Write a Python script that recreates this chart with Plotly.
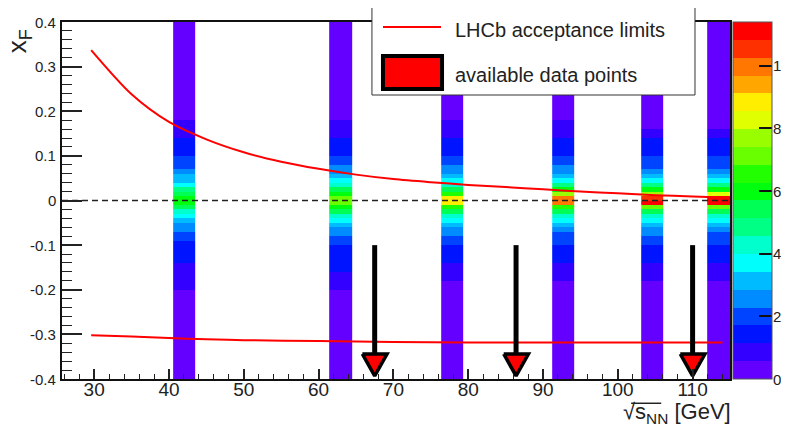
import plotly.graph_objects as go

# ---------------- data ----------------
# centres of the sqrt(s_NN) bins that are filled [GeV]
sqrt_s_centres = [42.05, 62.95, 77.85, 92.7, 104.6, 113.5]
BIN_W = 2.98

# x_F bin edges (bottom -> top)
xf_edges = [-0.40, -0.20, -0.18, -0.16, -0.14, -0.12, -0.10, -0.09, -0.08, -0.07,
            -0.06, -0.05, -0.04, -0.03, -0.02, -0.01, 0.00, 0.01, 0.02, 0.03,
            0.04, 0.05, 0.06, 0.07, 0.08, 0.09, 0.10, 0.12, 0.14, 0.16, 0.18,
            0.20, 0.40]

# bin contents per sqrt(s_NN) column (bottom -> top)
col_42 = [0.32, 0.62, 0.75, 0.98, 1.25, 1.42, 1.6, 1.85, 2.1, 2.45, 2.7, 3.2, 3.7, 4.2, 5.3, 6.0,
          6.05, 5.5, 4.8, 3.8, 3.3, 2.95, 2.5, 2.15, 1.95, 1.8, 1.5, 1.2, 0.95, 0.7, 0.45, 0.3]
col_63 = [0.3, 0.7, 0.95, 1.2, 1.45, 1.65, 1.85, 2.15, 2.4, 2.75, 3.2, 3.75, 4.3, 5.4, 6.1, 7.1,
          7.15, 6.0, 5.35, 4.25, 3.6, 3.05, 2.7, 2.35, 2.1, 1.9, 1.6, 1.25, 0.95, 0.7, 0.45, 0.3]
col_78 = [0.3, 0.5, 0.8, 1.05, 1.3, 1.6, 1.9, 2.1, 2.4, 2.7, 3.15, 3.7, 4.3, 5.5, 6.7, 8.9,
          8.95, 6.65, 5.45, 4.35, 3.75, 3.2, 2.75, 2.45, 2.15, 1.95, 1.65, 1.3, 1.0, 0.75, 0.5, 0.3]
col_93 = [0.3, 0.5, 0.75, 1.05, 1.3, 1.6, 1.8, 2.0, 2.2, 2.5, 3.1, 3.7, 4.35, 5.5, 6.6, 10.1,
          10.05, 7.75, 6.1, 4.9, 3.75, 3.15, 2.75, 2.35, 2.15, 1.9, 1.6, 1.3, 0.95, 0.7, 0.45, 0.3]
col_105 = [0.3, 0.5, 0.8, 1.05, 1.35, 1.6, 1.85, 2.15, 2.4, 2.7, 3.15, 3.75, 4.4, 5.5, 7.2, 11.1,
           10.6, 7.8, 6.05, 4.9, 3.8, 3.2, 2.6, 2.25, 2.05, 1.85, 1.55, 1.25, 0.9, 0.55, 0.4, 0.3]
col_114 = [0.3, 0.45, 0.7, 0.95, 1.25, 1.55, 1.85, 2.05, 2.25, 2.6, 3.15, 3.75, 4.35, 5.45, 7.15, 11.2,
           11.15, 8.3, 6.05, 4.9, 3.8, 3.2, 2.6, 2.2, 2.0, 1.8, 1.5, 1.2, 0.85, 0.5, 0.4, 0.3]
columns = [col_42, col_63, col_78, col_93, col_105, col_114]

# LHCb acceptance limits
acc_up_x = [29.6, 35, 40, 45, 50, 55, 60, 65, 70, 75, 80, 85, 90, 95, 100, 105, 110, 114]
acc_up_y = [0.337, 0.238, 0.176, 0.137, 0.108, 0.087, 0.071, 0.058, 0.048, 0.041, 0.035,
            0.030, 0.025, 0.020, 0.016, 0.012, 0.009, 0.007]
acc_lo_x = [29.6, 35, 40, 45, 50, 60, 70, 80, 90, 100, 114]
acc_lo_y = [-0.302, -0.305, -0.308, -0.311, -0.313, -0.315, -0.317, -0.318, -0.318, -0.318, -0.318]

# available data points
data_pts_x = [67.5, 86.4, 110.0]

# ticks
x_tickvals = [30, 40, 50, 60, 70, 80, 90, 100, 110]
y_tickvals = [-0.4, -0.3, -0.2, -0.1, 0.0, 0.1, 0.2, 0.3, 0.4]
y_ticktext = ["-0.4", "-0.3", "-0.2", "-0.1", "0", "0.1", "0.2", "0.3", "0.4"]
z_tickvals = [0, 2, 4, 6, 8, 10]
z_ticktext = ["0", "2", "4", "6", "8", "10"]
Z_MAX = 11.4

# ROOT "pretty" palette, 20 contour levels
palette = ["#6300ff", "#3300ff", "#0014ff", "#0044ff", "#008bff", "#00bbff", "#00fffc",
           "#00ffcc", "#00ff85", "#00ff55", "#00ff0e", "#22ff00", "#69ff00", "#99ff00",
           "#e0ff00", "#ffee00", "#ffa700", "#ff7700", "#ff3000", "#ff0000"]

# ---------------- build ----------------
n = len(palette)
colorscale = []
for k, c in enumerate(palette):
    colorscale.append([k / n, c])
    colorscale.append([(k + 1) / n, c])

x_edges = []
for c in sqrt_s_centres:
    x_edges += [c - BIN_W / 2, c + BIN_W / 2]

z = []
for r in range(len(xf_edges) - 1):
    row = []
    for j, col in enumerate(columns):
        row.append(col[r])
        if j < len(columns) - 1:
            row.append(None)
    z.append(row)

FONT = "Liberation Sans, Arial, Helvetica, sans-serif"
TXT = "#222222"

fig = go.Figure()
fig.add_trace(go.Heatmap(
    x=x_edges, y=xf_edges, z=z, zmin=0, zmax=Z_MAX, zsmooth=False,
    colorscale=colorscale, hoverongaps=False,
    colorbar=dict(x=1.0045, xanchor="left", xpad=0, y=0.5, yanchor="middle",
                  len=1, lenmode="fraction", ypad=0, thickness=39,
                  outlinewidth=1, outlinecolor="#555555",
                  tickvals=z_tickvals, ticks="inside", ticklen=13,
                  tickcolor="#111111", tickwidth=1.5, showticklabels=False),
))

fig.add_trace(go.Scatter(x=acc_up_x, y=acc_up_y, mode="lines",
                         line=dict(color="#ff0000", width=2, shape="spline", smoothing=0.8)))
fig.add_trace(go.Scatter(x=acc_lo_x, y=acc_lo_y, mode="lines",
                         line=dict(color="#ff0000", width=2, shape="spline", smoothing=0.8)))

# arrows for available data points
ARROW_TOP, TRI_TOP, TRI_TIP, TRI_HW = -0.10, -0.344, -0.393, 1.65
sx, sy, tx, ty = [], [], [], []
for xa in data_pts_x:
    sx += [xa, xa, None]
    sy += [ARROW_TOP, TRI_TOP, None]
    tx += [xa - TRI_HW, xa + TRI_HW, xa, xa - TRI_HW, None]
    ty += [TRI_TOP, TRI_TOP, TRI_TIP, TRI_TOP, None]
fig.add_trace(go.Scatter(x=sx, y=sy, mode="lines", line=dict(color="black", width=5)))
fig.add_trace(go.Scatter(x=tx, y=ty, mode="lines", fill="toself", fillcolor="#ff0000",
                         line=dict(color="black", width=3.5)))

# dashed x_F = 0 line
fig.add_shape(type="line", xref="paper", x0=0, x1=1, yref="y", y0=0, y1=0,
              line=dict(color="#222222", width=1.5, dash="6px,4px"), layer="above")

# legend box (drawn manually, ROOT style)
fig.add_shape(type="rect", xref="paper", yref="paper", x0=0.464, x1=0.9476, y0=0.7955, y1=1.0476,
              line=dict(color="#333333", width=1), fillcolor="white", layer="above")
fig.add_shape(type="line", xref="paper", yref="paper", x0=0.4805, x1=0.5674, y0=0.986, y1=0.986,
              line=dict(color="#ff0000", width=2), layer="above")
fig.add_shape(type="rect", xref="paper", yref="paper", x0=0.4805, x1=0.5689, y0=0.8123, y1=0.9048,
              line=dict(color="black", width=4), fillcolor="#ff0000", layer="above")
fig.add_annotation(text="LHCb acceptance limits", xref="paper", yref="paper", x=0.5853, y=0.9776,
                   xanchor="left", yanchor="middle", showarrow=False,
                   font=dict(size=20, family=FONT, color=TXT))
fig.add_annotation(text="available data points", xref="paper", yref="paper", x=0.5853, y=0.8515,
                   xanchor="left", yanchor="middle", showarrow=False,
                   font=dict(size=20, family=FONT, color=TXT))

# y tick labels (ROOT style, hyphen minus, right next to the axis)
for v, t in zip(y_tickvals, y_ticktext):
    fig.add_annotation(text=t, xref="paper", yref="y", x=-0.0065, y=v,
                       xanchor="right", yanchor="middle", showarrow=False,
                       font=dict(size=15, family=FONT, color=TXT))

# colour-bar labels (the bar spans the full plot height, 0 .. Z_MAX)
for v, t in zip(z_tickvals, z_ticktext):
    fig.add_annotation(text=t, xref="paper", yref="paper", x=1.062, y=v / Z_MAX,
                       xanchor="left", yanchor="middle", showarrow=False,
                       font=dict(size=15, family=FONT, color=TXT))

# axis titles
fig.add_annotation(text="x<sub>F</sub>", xref="paper", yref="paper", x=-0.064, y=0.986,
                   xanchor="center", yanchor="top", textangle=-90, showarrow=False,
                   font=dict(size=26, family=FONT, color=TXT))
fig.add_annotation(text="√s<sub>NN</sub> [GeV]",
                   xref="paper", yref="paper", x=1.0045, y=-0.095,
                   xanchor="right", yanchor="middle", showarrow=False,
                   font=dict(size=22, family=FONT, color=TXT))
# overbar of the square root
fig.add_shape(type="line", xref="paper", yref="paper", x0=0.852, x1=0.897, y0=-0.068, y1=-0.068,
              line=dict(color=TXT, width=1.5), layer="above")

# the page adds an 8 px body margin, so the figure is 8 px smaller on each side
fig.update_layout(
    width=781, height=423,
    margin=dict(l=54, r=59, t=14, b=52, autoexpand=False),
    paper_bgcolor="white", plot_bgcolor="white",
    showlegend=False,
    font=dict(family=FONT, color=TXT),
    xaxis=dict(range=[25.7, 115.0], tickvals=x_tickvals, ticks="inside", ticklen=10,
               tickwidth=1.5, tickcolor="#222222", showline=True, linecolor="#111111",
               linewidth=1.5, mirror=True, showgrid=False, zeroline=False,
               ticklabelstandoff=-8,
               tickfont=dict(size=19, family=FONT, color=TXT),
               minor=dict(dtick=2, ticks="inside", ticklen=5, tickcolor="#222222",
                          tickwidth=1.2, showgrid=False)),
    yaxis=dict(range=[-0.4, 0.4], tickvals=y_tickvals, showticklabels=False, ticks="inside",
               ticklen=20, tickwidth=1.5, tickcolor="#222222", showline=True,
               linecolor="#111111", linewidth=1.5, mirror=True, showgrid=False,
               zeroline=False,
               minor=dict(dtick=0.02, ticks="inside", ticklen=10, tickcolor="#222222",
                          tickwidth=1.2, showgrid=False)),
)

fig.write_html("out.html")
